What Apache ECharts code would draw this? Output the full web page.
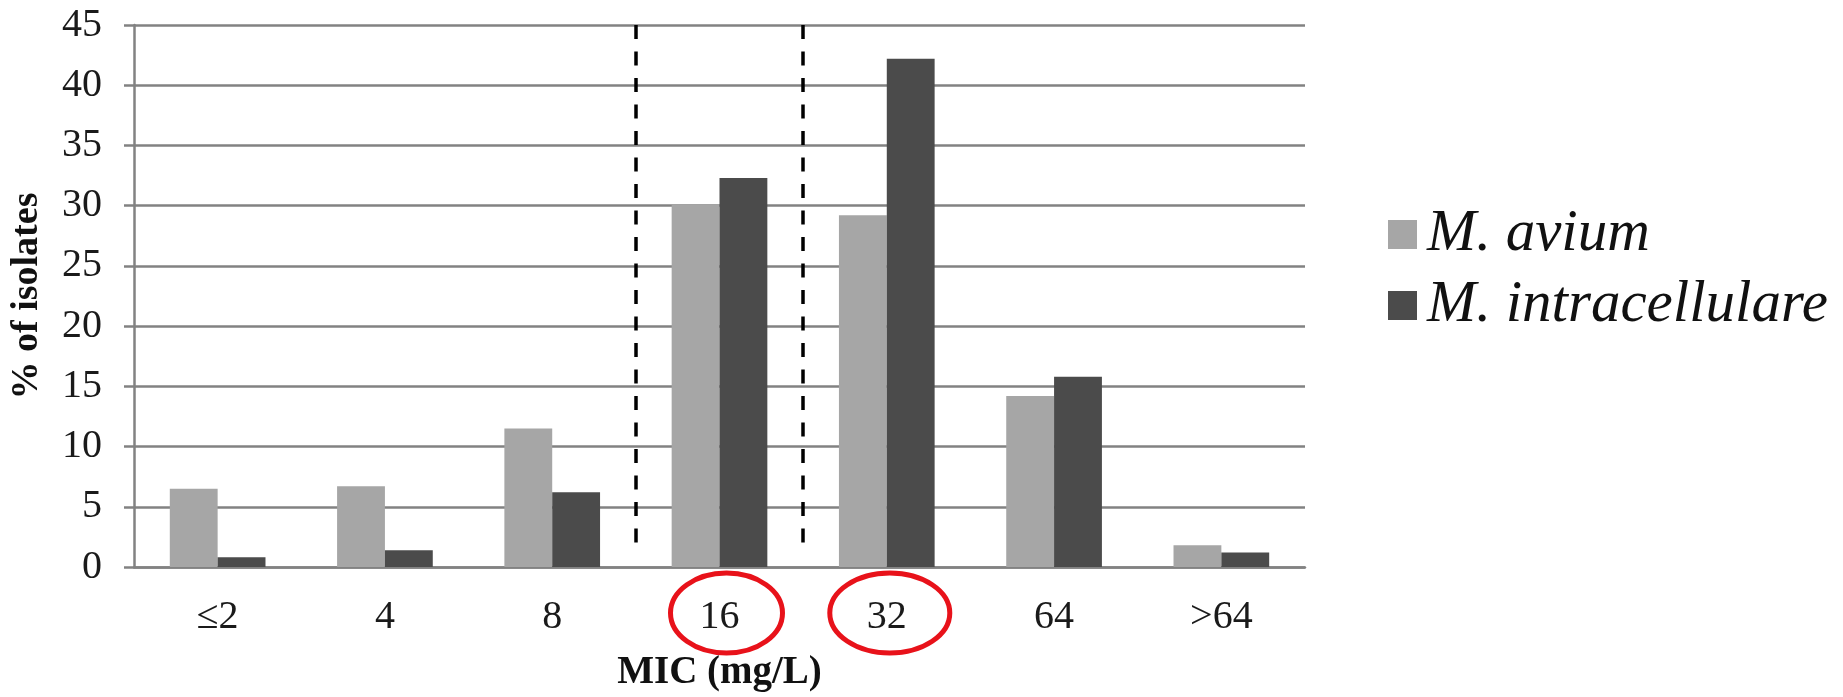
<!DOCTYPE html>
<html>
<head>
<meta charset="utf-8">
<title>MIC distribution</title>
<script src="https://cdn.jsdelivr.net/npm/echarts@6/dist/echarts.min.js"></script>
<style>
  html, body { margin: 0; padding: 0; background: #ffffff; }
  #chart { width: 1843px; height: 697px; }
</style>
</head>
<body>
<div id="chart"></div>
<script>
// MIC categories (mg/L)
const micCategories = ['≤2', '4', '8', '16', '32', '64', '>64'];

// Percentage of isolates per MIC category
const aviumValues = [6.5, 6.7, 11.5, 30.1, 29.2, 14.2, 1.8];
const intracellulareValues = [0.8, 1.4, 6.2, 32.3, 42.2, 15.8, 1.2];

const seriesNames = ['M. avium', 'M. intracellulare'];

// Y axis ticks: 0..45 step 5
const yMin = 0, yMax = 45, yStep = 5;

// Breakpoint positions (category boundaries) and highlighted MIC labels
const breakpointBoundaries = [3, 4];
const circledCategories = ['16', '32'];

const serif = '"Liberation Serif", "Times New Roman", serif';
const gridColor = '#828282';

const chart = echarts.init(document.getElementById('chart'), null, { renderer: 'canvas' });

const option = {
  backgroundColor: '#ffffff',
  animation: false,
  grid: { left: 133, right: 538, top: 25, bottom: 125 },
  legend: {
    data: seriesNames,
    orient: 'vertical',
    left: 1383,
    top: 198,
    itemWidth: 29,
    itemHeight: 29,
    itemGap: 8,
    icon: 'rect',
    selectedMode: false,
    textStyle: {
      fontFamily: serif,
      fontStyle: 'italic',
      fontSize: 59,
      lineHeight: 63,
      color: '#111111',
      padding: [0, 0, 0, 5]
    }
  },
  xAxis: [
    {
      type: 'category',
      data: micCategories,
      axisLine: { show: true, lineStyle: { color: gridColor, width: 2.5 } },
      axisTick: { show: false },
      axisLabel: { fontFamily: serif, fontSize: 40, color: '#1a1a1a', margin: 30 },
      name: 'MIC (mg/L)',
      nameLocation: 'middle',
      nameGap: 86,
      nameTextStyle: { fontFamily: serif, fontSize: 39, fontWeight: 'bold', color: '#111111' }
    },
    {
      // Hidden linear axis spanning the categories, used to place breakpoint lines at boundaries
      type: 'value',
      min: 0,
      max: micCategories.length,
      show: false
    }
  ],
  yAxis: {
    type: 'value',
    min: yMin,
    max: yMax,
    interval: yStep,
    axisLine: { show: true, lineStyle: { color: gridColor, width: 2.5 } },
    axisTick: { show: true, length: 10, lineStyle: { color: gridColor, width: 2.5 } },
    axisLabel: { fontFamily: serif, fontSize: 40, color: '#1a1a1a', margin: 32 },
    splitLine: { show: true, lineStyle: { color: gridColor, width: 2.5 } },
    name: '% of isolates',
    nameLocation: 'middle',
    nameGap: 88,
    nameTextStyle: { fontFamily: serif, fontSize: 38, fontWeight: 'bold', color: '#111111' }
  },
  series: [
    {
      name: seriesNames[0],
      type: 'bar',
      data: aviumValues,
      barWidth: '28.6%',
      barGap: '0%',
      itemStyle: { color: '#a6a6a6' },
      silent: true
    },
    {
      name: seriesNames[1],
      type: 'bar',
      data: intracellulareValues,
      barWidth: '28.6%',
      barGap: '0%',
      itemStyle: { color: '#4b4b4b' },
      silent: true
    },
    {
      name: 'breakpoints',
      type: 'line',
      xAxisIndex: 1,
      data: [],
      symbol: 'none',
      silent: true,
      markLine: {
        silent: true,
        symbol: ['none', 'none'],
        label: { show: false },
        lineStyle: { color: '#000000', width: 3.5, type: [14, 12.5] },
        data: breakpointBoundaries.map(b => [
          { coord: [b, yMax] },
          { coord: [b, 1.2] }
        ])
      }
    }
  ]
};

chart.setOption(option);

// Red rings around the highlighted MIC labels, placed from the category axis
const ringSize = { '16': { dx: 7, rx: 56, ry: 40 }, '32': { dx: 3, rx: 60, ry: 40 } };
const baseY = chart.convertToPixel({ yAxisIndex: 0 }, 0);
const rings = circledCategories.map(cat => {
  const cx = chart.convertToPixel({ xAxisIndex: 0 }, cat);
  const s = ringSize[cat];
  return {
    type: 'ellipse',
    silent: true,
    z: 100,
    shape: { cx: cx + s.dx, cy: baseY + 46, rx: s.rx, ry: s.ry },
    style: { fill: 'none', stroke: '#e8121a', lineWidth: 5 }
  };
});
chart.setOption({ graphic: rings });
</script>
</body>
</html>
